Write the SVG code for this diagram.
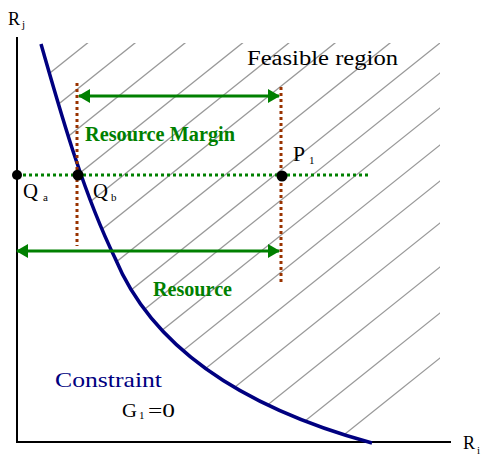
<svg xmlns="http://www.w3.org/2000/svg" width="483" height="455" viewBox="0 0 483 455">
<style>
.ser{font-family:"Liberation Serif","Times New Roman",serif;fill:#000}
.lbl{font-family:"Liberation Serif","Times New Roman",serif;font-weight:bold;font-size:20px;fill:#008000}
.hatch line{stroke:#999;stroke-width:1.3}
.axis{stroke:#000;stroke-width:2;fill:none}
.green-dot{stroke:#008000;stroke-width:3;stroke-dasharray:3 3;fill:none}
.brown-dot{stroke:#993300;stroke-width:3;stroke-dasharray:3 3;fill:none}
.arrow{stroke:#008000;stroke-width:3;fill:none}
.pt{fill:#000}
</style>
<defs>
<clipPath id="feas">
<path d="M41,43 L41,44 C60,110 82,190 115,258 C145,330 215,400 372,443 L440,443 L440,43 Z"/>
</clipPath>
<marker id="ah" viewBox="0 0 12 14" refX="11" refY="7" markerWidth="12" markerHeight="14" markerUnits="userSpaceOnUse" orient="auto-start-reverse">
<path d="M0,0 L12,7 L0,14 Z" fill="#008000"/>
</marker>
</defs>
<g id="hatch" class="hatch" clip-path="url(#feas)">
<line x1="0" y1="113" x2="600" y2="-367"/>
<line x1="0" y1="151" x2="600" y2="-329"/>
<line x1="0" y1="191" x2="600" y2="-289"/>
<line x1="0" y1="237" x2="600" y2="-243"/>
<line x1="0" y1="274" x2="600" y2="-206"/>
<line x1="0" y1="311" x2="600" y2="-169"/>
<line x1="0" y1="355" x2="600" y2="-125"/>
<line x1="0" y1="395" x2="600" y2="-85"/>
<line x1="0" y1="425" x2="600" y2="-55"/>
<line x1="0" y1="460" x2="600" y2="-20"/>
<line x1="0" y1="497" x2="600" y2="17"/>
<line x1="0" y1="533" x2="600" y2="53"/>
<line x1="0" y1="575" x2="600" y2="95"/>
<line x1="0" y1="619" x2="600" y2="139"/>
<line x1="0" y1="665" x2="600" y2="185"/>
<line x1="0" y1="710" x2="600" y2="230"/>
</g>
<g id="axes">
<path class="axis" d="M17,37 L17,443 M16,442 L451,442"/>
<text class="ser" x="8" y="25" font-size="18">R</text>
<text class="ser" x="22" y="28" font-size="11">j</text>
<text class="ser" x="463" y="449" font-size="18">R</text>
<text class="ser" x="477" y="454" font-size="11">i</text>
</g>
<g id="constraint-curve">
<path d="M41,44 C60,110 82,190 115,258 C145,330 215,400 372,443" fill="none" stroke="#000080" stroke-width="3.5"/>
</g>
<g id="connectors">
<line class="green-dot" x1="17" y1="175" x2="371" y2="175"/>
<line class="brown-dot" x1="77" y1="83" x2="77" y2="246"/>
<line class="brown-dot" x1="281" y1="87" x2="281" y2="284"/>
<line class="arrow" x1="79" y1="96" x2="279" y2="96" marker-start="url(#ah)" marker-end="url(#ah)"/>
<line class="arrow" x1="17" y1="251" x2="279" y2="251" marker-start="url(#ah)" marker-end="url(#ah)"/>
</g>
<g id="Qa">
<circle class="pt" cx="17" cy="175" r="5"/>
<text class="ser" x="23" y="198" font-size="20" textLength="15" lengthAdjust="spacingAndGlyphs">Q</text>
<text class="ser" x="43" y="201" font-size="11">a</text>
</g>
<g id="Qb">
<circle class="pt" cx="78" cy="175" r="5.5"/>
<text class="ser" x="93" y="198" font-size="20" textLength="15" lengthAdjust="spacingAndGlyphs">Q</text>
<text class="ser" x="111" y="201" font-size="11">b</text>
</g>
<g id="P1">
<circle class="pt" cx="282" cy="176" r="5.5"/>
<text class="ser" x="293" y="161" font-size="20" textLength="12" lengthAdjust="spacingAndGlyphs">P</text>
<text class="ser" x="309" y="164" font-size="11">1</text>
</g>
<g id="labels">
<text class="ser" x="247" y="65" font-size="20" textLength="151" lengthAdjust="spacingAndGlyphs">Feasible region</text>
<text class="lbl" x="85" y="141" textLength="150" lengthAdjust="spacingAndGlyphs">Resource Margin</text>
<text class="lbl" x="153" y="296" textLength="79" lengthAdjust="spacingAndGlyphs">Resource</text>
<text class="ser" x="55" y="387" font-size="21" style="fill:#000080" textLength="107" lengthAdjust="spacingAndGlyphs">Constraint</text>
<text class="ser" x="122" y="417" font-size="19" textLength="15" lengthAdjust="spacingAndGlyphs">G</text>
<text class="ser" x="139" y="419" font-size="11">1</text>
<text class="ser" x="148" y="417" font-size="19" textLength="27" lengthAdjust="spacingAndGlyphs">=0</text>
</g>
</svg>
